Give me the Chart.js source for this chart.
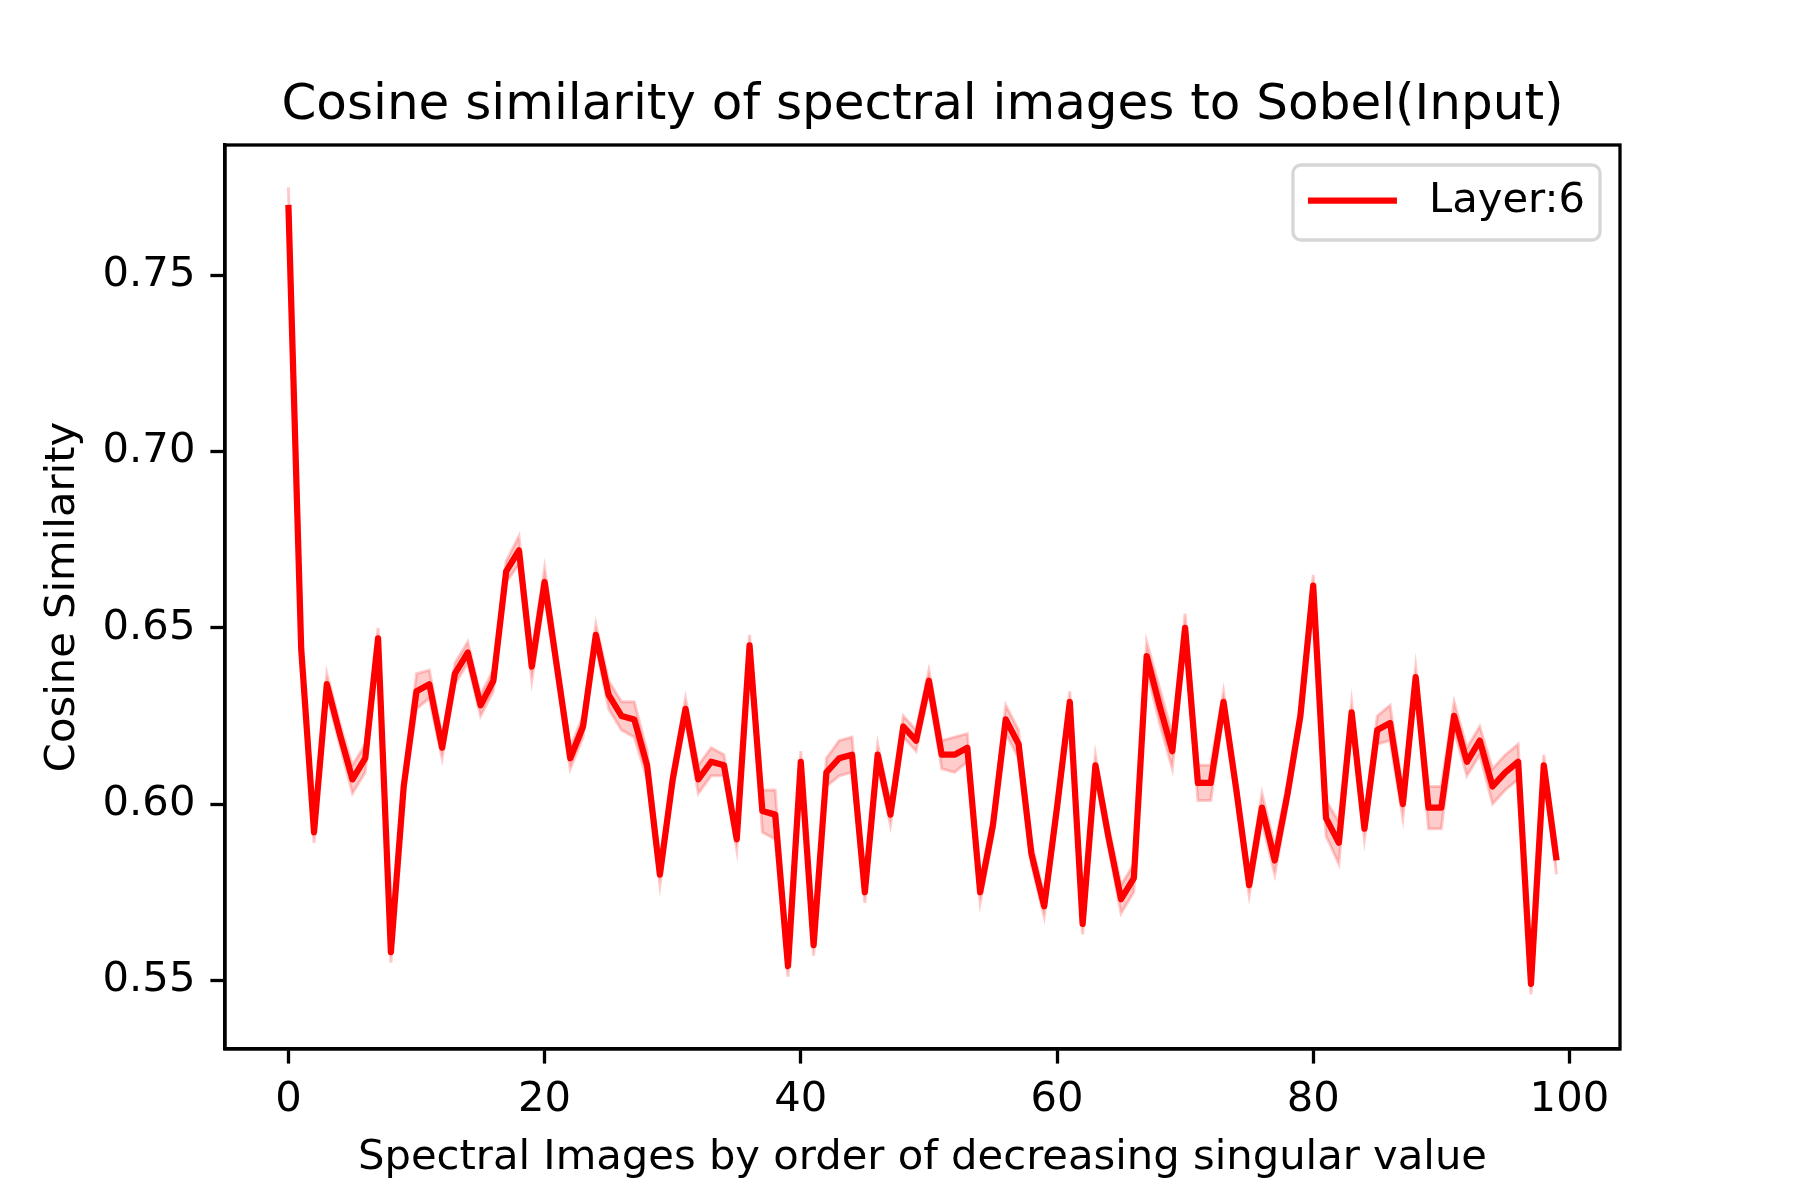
<!DOCTYPE html>
<html>
<head>
<meta charset="utf-8">
<script src="https://cdn.jsdelivr.net/npm/chart.js@4/dist/chart.umd.min.js"></script>
<style>
  html, body { margin: 0; padding: 0; background: #ffffff; }
  #c { display: block; }
</style>
</head>
<body>
<canvas id="c" width="1800" height="1200"></canvas>
<script>
// ---------- data ----------
const chartTitle = "Cosine similarity of spectral images to Sobel(Input)";
const xAxisLabel = "Spectral Images by order of decreasing singular value";
const yAxisLabel = "Cosine Similarity";
const seriesLabel = "Layer:6";

const xTicks = [0, 20, 40, 60, 80, 100];
const yTicks = [0.55, 0.60, 0.65, 0.70, 0.75];

const spectralIndex = [
  0,1,2,3,4,5,6,7,8,9,10,11,12,13,14,15,16,17,18,19,
  20,21,22,23,24,25,26,27,28,29,30,31,32,33,34,35,36,37,38,39,
  40,41,42,43,44,45,46,47,48,49,50,51,52,53,54,55,56,57,58,59,
  60,61,62,63,64,65,66,67,68,69,70,71,72,73,74,75,76,77,78,79,
  80,81,82,83,84,85,86,87,88,89,90,91,92,93,94,95,96,97,98,99
];

const cosineSimilarity = [
  0.770,0.644,0.592,0.634,0.620,0.607,0.613,0.647,0.558,0.605,
  0.632,0.634,0.616,0.637,0.643,0.628,0.635,0.666,0.672,0.639,
  0.663,0.638,0.613,0.622,0.648,0.631,0.625,0.624,0.611,0.580,
  0.607,0.627,0.607,0.612,0.611,0.590,0.645,0.598,0.597,0.554,
  0.612,0.560,0.609,0.613,0.614,0.575,0.614,0.597,0.622,0.618,
  0.635,0.614,0.614,0.616,0.575,0.594,0.624,0.617,0.586,0.571,
  0.599,0.629,0.566,0.611,0.591,0.573,0.579,0.642,0.628,0.615,
  0.650,0.606,0.606,0.629,0.604,0.577,0.599,0.584,0.603,0.625,
  0.662,0.596,0.589,0.626,0.593,0.621,0.623,0.600,0.636,0.599,
  0.599,0.625,0.612,0.618,0.605,0.609,0.612,0.549,0.611,0.584
];

// half-width of the shaded band around each point
const bandHalfWidth = [
  0.005,0.003,0.003,0.003,0.003,0.004,0.004,0.003,0.003,0.003,
  0.005,0.004,0.003,0.003,0.003,0.003,0.003,0.003,0.004,0.004,
  0.004,0.003,0.003,0.003,0.003,0.004,0.004,0.005,0.004,0.003,
  0.003,0.003,0.004,0.004,0.003,0.003,0.003,0.006,0.007,0.003,
  0.003,0.003,0.004,0.005,0.005,0.003,0.003,0.003,0.003,0.003,
  0.003,0.004,0.005,0.004,0.003,0.003,0.004,0.004,0.003,0.003,
  0.003,0.003,0.003,0.003,0.003,0.004,0.004,0.004,0.005,0.005,
  0.004,0.005,0.005,0.003,0.003,0.003,0.004,0.004,0.003,0.003,
  0.003,0.005,0.006,0.003,0.003,0.004,0.005,0.004,0.003,0.006,
  0.006,0.004,0.004,0.004,0.005,0.005,0.005,0.003,0.003,0.004
];

// ---------- build ----------
const FONT = "'DejaVu Sans', 'Liberation Sans', sans-serif";
const meanPts = spectralIndex.map((x, i) => ({ x: x, y: cosineSimilarity[i] }));
const lowerPts = spectralIndex.map((x, i) => ({ x: x, y: cosineSimilarity[i] - bandHalfWidth[i] }));
const upperPts = spectralIndex.map((x, i) => ({ x: x, y: cosineSimilarity[i] + bandHalfWidth[i] }));

const framePlugin = {
  id: 'frameAndLegend',
  afterDraw(chart) {
    const ctx = chart.ctx;
    const a = chart.chartArea;
    ctx.save();
    // axes frame (all four spines)
    ctx.strokeStyle = '#000000';
    ctx.lineWidth = 3.3;
    ctx.strokeRect(a.left, a.top, a.right - a.left, a.bottom - a.top);

    // legend
    const ds = chart.data.datasets[0];
    ctx.font = '41.7px ' + FONT;
    const tw = ctx.measureText(ds.label).width;
    const padL = 15, lineLen = 89, gap = 32, padR = 15, h = 75;
    const w = padL + lineLen + gap + tw + padR;
    const bx = a.right - 20 - w;
    const by = a.top + 20;
    const r = 8;
    ctx.beginPath();
    ctx.moveTo(bx + r, by);
    ctx.lineTo(bx + w - r, by);
    ctx.arcTo(bx + w, by, bx + w, by + r, r);
    ctx.lineTo(bx + w, by + h - r);
    ctx.arcTo(bx + w, by + h, bx + w - r, by + h, r);
    ctx.lineTo(bx + r, by + h);
    ctx.arcTo(bx, by + h, bx, by + h - r, r);
    ctx.lineTo(bx, by + r);
    ctx.arcTo(bx, by, bx + r, by, r);
    ctx.closePath();
    ctx.fillStyle = 'rgba(255,255,255,0.8)';
    ctx.fill();
    ctx.strokeStyle = 'rgba(204,204,204,0.8)';
    ctx.lineWidth = 3.3;
    ctx.stroke();

    const cy = by + h / 2 - 2;
    ctx.strokeStyle = ds.borderColor;
    ctx.lineWidth = 6.25;
    ctx.lineCap = 'butt';
    ctx.beginPath();
    ctx.moveTo(bx + padL, cy);
    ctx.lineTo(bx + padL + lineLen, cy);
    ctx.stroke();

    ctx.fillStyle = '#000000';
    ctx.textBaseline = 'middle';
    ctx.textAlign = 'left';
    ctx.fillText(ds.label, bx + padL + lineLen + gap, cy + 1);
    ctx.restore();
  }
};

new Chart(document.getElementById('c'), {
  type: 'line',
  data: {
    datasets: [
      {
        label: seriesLabel,
        data: meanPts,
        borderColor: '#ff0000',
        borderWidth: 6.25,
        pointRadius: 0,
        tension: 0,
        fill: false,
        borderJoinStyle: 'round',
        borderCapStyle: 'butt'
      },
      {
        label: 'lower',
        data: lowerPts,
        borderColor: 'rgba(255,0,0,0.2)',
        borderWidth: 3,
        pointRadius: 0,
        tension: 0,
        fill: false
      },
      {
        label: 'upper',
        data: upperPts,
        borderColor: 'rgba(255,0,0,0.2)',
        backgroundColor: 'rgba(255,0,0,0.2)',
        borderWidth: 3,
        pointRadius: 0,
        tension: 0,
        fill: '-1'
      }
    ]
  },
  options: {
    responsive: false,
    animation: false,
    devicePixelRatio: 1,
    layout: { padding: { left: 0, top: 0, right: 180, bottom: 0 } },
    plugins: {
      legend: { display: false },
      tooltip: { enabled: false },
      title: {
        display: true,
        text: chartTitle,
        fullSize: false,
        color: '#000000',
        font: { family: FONT, size: 50, weight: 'normal' },
        padding: { top: 76, bottom: 9 }
      }
    },
    scales: {
      x: {
        type: 'linear',
        min: -4.95,
        max: 103.95,
        afterBuildTicks: (s) => { s.ticks = xTicks.map(v => ({ value: v })); },
        afterFit: (s) => { s.height = 151; },
        grid: { display: true, drawOnChartArea: false, drawTicks: true, tickLength: 14.6, tickWidth: 3.3, tickColor: '#000000' },
        border: { display: true, color: '#000000', width: 3.3 },
        ticks: {
          color: '#000000',
          font: { family: FONT, size: 41.7 },
          padding: 12,
          maxRotation: 0,
          autoSkip: false,
          callback: (v) => String(v)
        },
        title: {
          display: true,
          text: xAxisLabel,
          color: '#000000',
          font: { family: FONT, size: 41.7 },
          padding: { top: 0, bottom: 17 }
        }
      },
      y: {
        type: 'linear',
        min: 0.5305,
        max: 0.787,
        afterBuildTicks: (s) => { s.ticks = yTicks.map(v => ({ value: v })); },
        afterFit: (s) => { s.width = 225; },
        grid: { display: true, drawOnChartArea: false, drawTicks: true, tickLength: 14.6, tickWidth: 3.3, tickColor: '#000000' },
        border: { display: true, color: '#000000', width: 3.3 },
        ticks: {
          color: '#000000',
          font: { family: FONT, size: 41.7 },
          padding: 15,
          autoSkip: false,
          callback: (v) => Number(v).toFixed(2)
        },
        title: {
          display: true,
          text: yAxisLabel,
          color: '#000000',
          font: { family: FONT, size: 41.7 },
          padding: { top: 38, bottom: 0 }
        }
      }
    }
  },
  plugins: [framePlugin]
});
</script>
</body>
</html>
